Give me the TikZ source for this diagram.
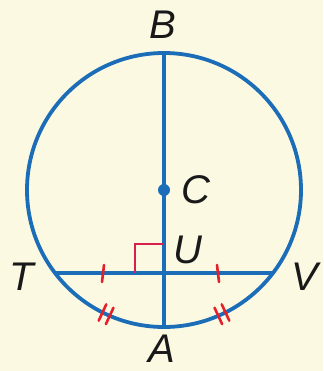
\documentclass[tikz,border=0pt]{standalone}
\usepackage{fontspec}
\setmainfont{Liberation Sans}
\definecolor{bgc}{HTML}{FBF9E2}
\definecolor{lineblue}{HTML}{1B6DB8}
\definecolor{tickred}{HTML}{E4202C}
\definecolor{angmark}{HTML}{D8204E}
\tikzset{
  geo/.style={draw=lineblue, line width=3.8pt},
  tickmark/.style={draw=tickred, line width=2.6pt, line cap=round},
  anglemark/.style={draw=angmark, line width=2.2pt},
  lbl/.style={inner sep=0pt, font=\fontsize{40}{40}\selectfont\itshape, text=black!90}
}
\begin{document}
\begin{tikzpicture}[x=1pt,y=-1pt]
\fill[bgc] (0,0) rectangle (323,371);
\useasboundingbox (0,0) rectangle (323,371);
% points
\coordinate (C) at (164,190);
\coordinate (B) at (164,53);
\coordinate (A) at (164,327);
\coordinate (T) at (55,273);
\coordinate (V) at (273,273);
\coordinate (U) at (164,273);
% circle
\draw[geo] (C) circle[radius=137];
% diameter and chord
\draw[geo] (B) -- (A);
\draw[geo] (T) -- (V);
% right angle mark
\draw[anglemark] (135,273) -- (135,244) -- (164,244);
% center dot
\fill[lineblue] (C) circle[radius=6];
% tick marks on chord
\draw[tickmark] (104,265) -- (102,282);
\draw[tickmark] (217,265) -- (219,282);
% double tick marks on arcs
\draw[tickmark] (113.5,307.7) -- (105.9,324.1);
\draw[tickmark] (106.3,304.3) -- (98.7,320.7);
\draw[tickmark] (221.7,304.3) -- (229.3,320.7);
\draw[tickmark] (214.5,307.7) -- (222.1,324.1);
% labels
\node[lbl] (lB) at (163,25) {B};
\node[lbl] (lC) at (196,190) {C};
\node[lbl] (lU) at (188,250) {U};
\node[lbl] (lT) at (22,277) {T};
\node[lbl] (lV) at (305,277) {V};
\node[lbl] (lA) at (162,349) {A};
\end{tikzpicture}
\end{document}
